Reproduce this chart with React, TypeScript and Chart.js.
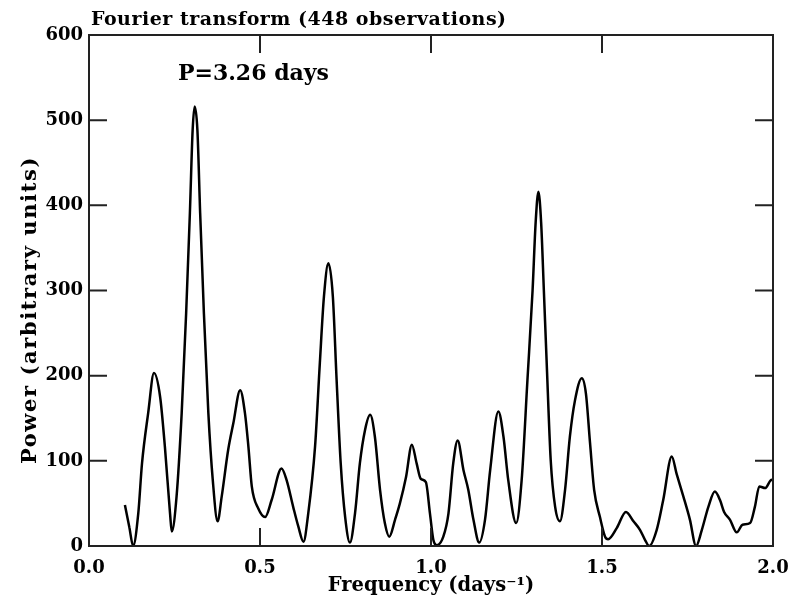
import { useEffect, useRef } from "react";
import { Chart, registerables } from "chart.js";

Chart.register(...registerables);

const FREQ = [
  0.105, 0.118, 0.129, 0.144, 0.155, 0.173, 0.19, 0.208, 0.222, 0.237, 0.242,
  0.256, 0.271, 0.284, 0.295, 0.303, 0.309, 0.317, 0.325, 0.336, 0.349, 0.362, 0.376,
  0.388, 0.407, 0.422, 0.442, 0.456, 0.466, 0.476, 0.495, 0.515, 0.534, 0.563, 0.578,
  0.597, 0.612, 0.627, 0.641, 0.661, 0.675, 0.687, 0.7, 0.713, 0.724, 0.736, 0.749,
  0.763, 0.778, 0.792, 0.807, 0.822, 0.836, 0.851, 0.865, 0.878, 0.895, 0.909, 0.927,
  0.944, 0.958, 0.97, 0.985, 0.997, 1.007, 1.017, 1.036, 1.051, 1.065, 1.078, 1.095,
  1.109, 1.124, 1.141, 1.158, 1.173, 1.197, 1.212, 1.226, 1.249, 1.265, 1.282, 1.297,
  1.306, 1.314, 1.322, 1.33, 1.338, 1.35, 1.363, 1.377, 1.392, 1.406, 1.421, 1.441,
  1.453, 1.465, 1.477, 1.494, 1.509, 1.518, 1.543, 1.57, 1.592, 1.611, 1.626, 1.638,
  1.66, 1.679, 1.704, 1.718, 1.738, 1.757, 1.775, 1.792, 1.811, 1.83, 1.845, 1.857,
  1.874, 1.894, 1.911, 1.933, 1.947, 1.96, 1.977, 1.993, 2.0,
];
const POWER = [
  48, 22, 0, 38, 97, 156, 203, 175, 116, 38, 17,
  58, 156, 273, 391, 488, 516, 488, 391, 273, 156, 77, 29,
  58, 113, 144, 183, 156, 117, 70, 44, 34, 54, 91, 77,
  46, 23, 5, 38, 117, 215, 293, 332, 293, 195, 97, 34,
  4, 39, 97, 136, 154, 128, 66, 27, 11, 31, 50, 81,
  119, 97, 79, 75, 38, 7, 1, 11, 38, 97, 124, 89,
  66, 31, 4, 31, 89, 158, 128, 77, 27, 77, 195, 300,
  380, 416, 380, 300, 218, 101, 46, 29, 66, 128, 171, 197,
  179, 121, 66, 34, 11, 8, 21, 40, 29, 19, 7, 0,
  19, 54, 105, 85, 58, 31, 0, 19, 46, 64, 54, 40,
  31, 16, 25, 27, 46, 70, 68, 77, 78,
];

const X_TICKS = [0, 0.5, 1.0, 1.5, 2.0];
const Y_TICKS = [0, 100, 200, 300, 400, 500, 600];
const TITLE = "Fourier transform (448 observations)";
const X_LABEL = "Frequency (days\u207B\u00B9)";
const Y_LABEL = "Power (arbitrary units)";
const ANNOTATION = "P=3.26 days";
const ANNOT_F = 0.26;
const ANNOT_P = 547;
const Y_LABEL_CENTER_P = 277;

const FONT_FAMILY = '"DejaVu Serif", serif';

const framePlugin = {
  id: "frameTicks",
  afterDraw(chart: any) {
    const { ctx, chartArea } = chart;
    const { left, right, top, bottom } = chartArea;
    const xs = chart.scales.x;
    const ys = chart.scales.y;
    ctx.save();
    ctx.strokeStyle = "#222";
    ctx.lineWidth = 2;
    ctx.strokeRect(left, top, right - left, bottom - top);
    const L = 18;
    ctx.beginPath();
    for (const v of X_TICKS) {
      const px = xs.getPixelForValue(v);
      ctx.moveTo(px, bottom);
      ctx.lineTo(px, bottom - L);
      ctx.moveTo(px, top);
      ctx.lineTo(px, top + L);
    }
    for (const v of Y_TICKS) {
      const py = ys.getPixelForValue(v);
      ctx.moveTo(left, py);
      ctx.lineTo(left + L, py);
      ctx.moveTo(right, py);
      ctx.lineTo(right - L, py);
    }
    ctx.stroke();

    ctx.fillStyle = "#000";
    ctx.textAlign = "left";
    ctx.textBaseline = "alphabetic";
    ctx.font = `bold 19px ${FONT_FAMILY}`;
    (ctx as any).letterSpacing = "0.5px";
    ctx.fillText(TITLE, left + 2, top - 10);
    (ctx as any).letterSpacing = "0px";
    ctx.font = `bold 22px ${FONT_FAMILY}`;
    ctx.fillText(ANNOTATION, xs.getPixelForValue(ANNOT_F), ys.getPixelForValue(ANNOT_P));

    ctx.font = `bold 21px ${FONT_FAMILY}`;
    (ctx as any).letterSpacing = "1.6px";
    ctx.translate(31, ys.getPixelForValue(Y_LABEL_CENTER_P));
    ctx.rotate(-Math.PI / 2);
    ctx.textAlign = "center";
    ctx.textBaseline = "middle";
    ctx.fillText(Y_LABEL, 0, 0);
    (ctx as any).letterSpacing = "0px";
    ctx.restore();
  },
};

export default function App() {
  const ref = useRef<HTMLCanvasElement | null>(null);
  useEffect(() => {
    document.body.style.margin = "0";
    const canvas = ref.current;
    if (!canvas) return;
    const font = { family: FONT_FAMILY, size: 18, weight: "bold" as const };
    const chart = new Chart(canvas, {
      type: "line",
      data: {
        datasets: [
          {
            data: FREQ.map((f, i) => ({ x: f, y: POWER[i] })),
            borderColor: "#000",
            borderWidth: 2.5,
            pointRadius: 0,
            fill: false,
            cubicInterpolationMode: "monotone",
          },
        ],
      },
      options: {
        responsive: false,
        animation: false,
        layout: { padding: { left: 0, right: 28, top: 35, bottom: 0 } },
        plugins: { legend: { display: false }, tooltip: { enabled: false }, title: { display: false } },
        scales: {
          x: {
            type: "linear",
            min: 0,
            max: 2,
            afterBuildTicks: (s: any) => {
              s.ticks = X_TICKS.map((v) => ({ value: v }));
            },
            ticks: {
              callback: (v: any) => Number(v).toFixed(1),
              font,
              color: "#000",
              padding: 12,
              maxRotation: 0,
              autoSkip: false,
            },
            grid: { display: false, drawTicks: false },
            border: { display: false },
            title: {
              display: true,
              text: X_LABEL,
              font: { family: FONT_FAMILY, size: 19.5, weight: "bold" as const },
              color: "#000",
              padding: { top: 0, bottom: 5 },
            },
            afterFit: (s: any) => {
              s.height = 57;
            },
          },
          y: {
            type: "linear",
            min: 0,
            max: 600,
            afterBuildTicks: (s: any) => {
              s.ticks = Y_TICKS.map((v) => ({ value: v }));
            },
            ticks: { font, color: "#000", padding: 6, autoSkip: false },
            grid: { display: false, drawTicks: false },
            border: { display: false },
            afterFit: (s: any) => {
              s.width = 89;
            },
          },
        },
      },
      plugins: [framePlugin],
    });
    return () => chart.destroy();
  }, []);
  return (
    <div style={{ width: 801, height: 603 }}>
      <canvas ref={ref} width={801} height={603} style={{ display: "block" }} />
    </div>
  );
}
